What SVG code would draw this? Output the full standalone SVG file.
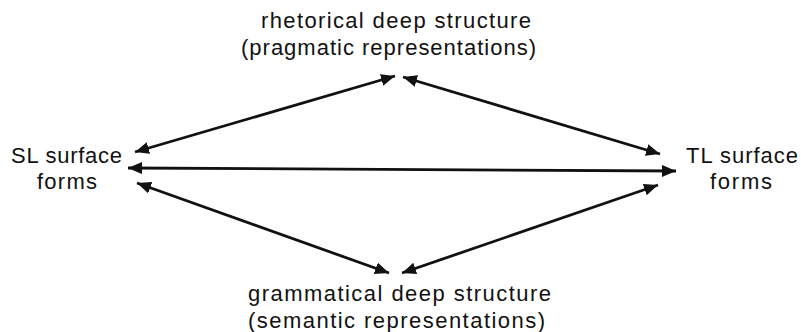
<svg xmlns="http://www.w3.org/2000/svg" width="801" height="332" viewBox="0 0 801 332">
<style>
  text { font-family: "Liberation Sans", Arial, sans-serif; font-size: 22px; fill: #111; }
  .c { stroke: #111; stroke-width: 2.8; fill: none; }
</style>
<defs>
  <marker id="ah" markerUnits="userSpaceOnUse" markerWidth="16" markerHeight="12" refX="14" refY="6" orient="auto-start-reverse">
    <path d="M0,0 L14,6 L0,12 Z" fill="#111"/>
  </marker>
</defs>
<rect width="801" height="332" fill="#fff"/>
<g id="rhetorical">
  <text x="261" y="28" textLength="270" lengthAdjust="spacing">rhetorical deep structure</text>
  <text x="241" y="55" textLength="295" lengthAdjust="spacing">(pragmatic representations)</text>
</g>
<g id="sl">
  <text x="11" y="163" textLength="111" lengthAdjust="spacing">SL surface</text>
  <text x="37" y="189" textLength="60" lengthAdjust="spacing">forms</text>
</g>
<g id="tl">
  <text x="686" y="163" textLength="112" lengthAdjust="spacing">TL surface</text>
  <text x="710" y="189" textLength="62" lengthAdjust="spacing">forms</text>
</g>
<g id="grammatical">
  <text x="248" y="301" textLength="303" lengthAdjust="spacing">grammatical deep structure</text>
  <text x="248" y="328" textLength="297" lengthAdjust="spacing">(semantic representations)</text>
</g>
<g id="connectors">
  <line class="c" x1="135" y1="152" x2="395" y2="76" marker-start="url(#ah)" marker-end="url(#ah)"/>
  <line class="c" x1="403" y1="77" x2="660" y2="154" marker-start="url(#ah)" marker-end="url(#ah)"/>
  <line class="c" x1="128" y1="168" x2="676" y2="171" marker-start="url(#ah)" marker-end="url(#ah)" stroke-width="3.2"/>
  <line class="c" x1="137" y1="183" x2="389" y2="273" marker-start="url(#ah)" marker-end="url(#ah)"/>
  <line class="c" x1="402" y1="273" x2="658" y2="185" marker-start="url(#ah)" marker-end="url(#ah)"/>
</g>
</svg>
